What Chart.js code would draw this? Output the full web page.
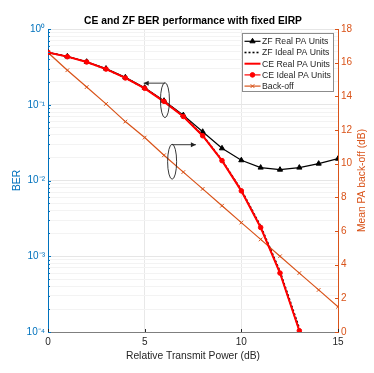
<!DOCTYPE html>
<html>
<head>
<meta charset="utf-8">
<script src="https://cdn.jsdelivr.net/npm/chart.js@4/dist/chart.umd.min.js"></script>
<style>
html,body{margin:0;padding:0;background:#fff;}
#wrap{width:374px;height:373px;position:relative;}
</style>
</head>
<body>
<div id="wrap"><canvas id="c" width="374" height="373"></canvas></div>
<script>
// ---- data ----
const xValues = [0,1,2,3,4,5,6,7,8,9,10,11,12,13,14,15];
const zfReal  = [0.49,0.435,0.37,0.30,0.23,0.168,0.113,0.073,0.044,0.0266,0.0185,0.0148,0.0139,0.0148,0.0167,0.0194];
const zfIdeal = [0.49,0.433,0.367,0.296,0.227,0.165,0.111,0.071,0.0395,0.0186,0.0075,0.0025,0.00063,0.000112];
const ceReal  = [0.49,0.432,0.366,0.295,0.226,0.164,0.110,0.070,0.039,0.0183,0.0073,0.0024,0.0006,0.000104];
const ceIdeal = [0.49,0.431,0.367,0.296,0.226,0.165,0.111,0.070,0.039,0.0183,0.0073,0.0024,0.0006,0.000104];
const backOff = [16.6,15.55,14.55,13.55,12.5,11.55,10.5,9.5,8.5,7.5,6.5,5.5,4.5,3.5,2.5,1.5];
const xTicks = [0,5,10,15];
const berTickLabels = {"1":"10\u2070","0.1":"10\u207B\u00B9","0.01":"10\u207B\u00B2","0.001":"10\u207B\u00B3","0.0001":"10\u207B\u2074"};
const titleText = "CE and ZF BER performance with fixed EIRP";
const xTitle = "Relative Transmit Power (dB)";
const yTitle = "BER";
const y2Title = "Mean PA back-off (dB)";

const BLUE = '#0072BD', ORANGE = '#D95319', AX = '#262626';
const FONT = "'Liberation Sans', Arial, sans-serif";

function pts(arr){ return arr.map((v,i)=>({x:xValues[i], y:v})); }

const datasets = [
  {label:'ZF Real PA Units', data:pts(zfReal), borderColor:'#000', backgroundColor:'#000', borderWidth:1.2,
   pointStyle:'triangle', pointRadius:3, pointBorderWidth:1, order:4, yAxisID:'y'},
  {label:'ZF Ideal PA Units', data:pts(zfIdeal), borderColor:'#000', backgroundColor:'#000', borderWidth:1.6,
   borderDash:[2,2], pointRadius:0, order:3, yAxisID:'y'},
  {label:'CE Real PA Units', data:pts(ceReal), borderColor:'#FF0000', backgroundColor:'#FF0000', borderWidth:2,
   pointRadius:0, order:2, yAxisID:'y'},
  {label:'CE Ideal PA Units', data:pts(ceIdeal), borderColor:'#FF0000', backgroundColor:'#FF0000', borderWidth:1.2,
   pointStyle:'circle', pointRadius:2.3, pointBorderWidth:1, order:1, yAxisID:'y'},
  {label:'Back-off', data:pts(backOff), borderColor:ORANGE, backgroundColor:ORANGE, borderWidth:1.2,
   pointStyle:'crossRot', pointRadius:2.6, pointBorderWidth:1, order:5, yAxisID:'y2'}
];

const decorPlugin = {
  id:'decor',
  afterDraw(chart){
    const ctx = chart.ctx, a = chart.chartArea;
    const sx = chart.scales.x, sy = chart.scales.y, sy2 = chart.scales.y2;
    ctx.save();
    // inner tick marks
    ctx.lineWidth = 1;
    ctx.strokeStyle = BLUE;
    sy.ticks.forEach(t=>{
      const y = Math.round(sy.getPixelForValue(t.value))+0.5;
      const major = berTickLabels[String(t.value)] !== undefined;
      ctx.beginPath(); ctx.moveTo(a.left, y); ctx.lineTo(a.left + (major?3:2), y); ctx.stroke();
    });
    ctx.strokeStyle = ORANGE;
    sy2.ticks.forEach(t=>{
      const y = Math.round(sy2.getPixelForValue(t.value))+0.5;
      ctx.beginPath(); ctx.moveTo(a.right, y); ctx.lineTo(a.right-3, y); ctx.stroke();
    });
    ctx.strokeStyle = AX;
    sx.ticks.forEach(t=>{
      const x = Math.round(sx.getPixelForValue(t.value))+0.5;
      ctx.beginPath(); ctx.moveTo(x, a.bottom); ctx.lineTo(x, a.bottom-3); ctx.stroke();
    });

    // titles
    ctx.fillStyle = '#000';
    ctx.font = "bold 10.3px " + FONT;
    ctx.textAlign = 'center'; ctx.textBaseline = 'middle';
    ctx.fillText(titleText, (a.left+a.right)/2, 21);
    ctx.font = "10.3px " + FONT;
    ctx.fillStyle = AX;
    ctx.fillText(xTitle, (a.left+a.right)/2, 356);
    ctx.save(); ctx.translate(17, (a.top+a.bottom)/2); ctx.rotate(-Math.PI/2);
    ctx.fillStyle = BLUE; ctx.fillText(yTitle, 0, 0); ctx.restore();
    ctx.save(); ctx.translate(362, (a.top+a.bottom)/2); ctx.rotate(-Math.PI/2);
    ctx.fillStyle = ORANGE; ctx.fillText(y2Title, 0, 0); ctx.restore();

    // annotations (ellipses + arrows)
    function arrow(x1,y,x2){
      ctx.beginPath(); ctx.moveTo(x1,y); ctx.lineTo(x2,y); ctx.stroke();
      const d = x2 > x1 ? 1 : -1;
      ctx.beginPath(); ctx.moveTo(x2,y); ctx.lineTo(x2-d*5,y-2.5); ctx.lineTo(x2-d*5,y+2.5); ctx.closePath(); ctx.fill();
    }
    ctx.strokeStyle = '#222'; ctx.fillStyle = '#222'; ctx.lineWidth = 0.9;
    let cx = sx.getPixelForValue(6.05), cy = sy.getPixelForValue(0.115);
    ctx.beginPath(); ctx.ellipse(cx, cy, 4.5, 17.5, 0, 0, Math.PI*2); ctx.stroke();
    arrow(cx, cy-17, sx.getPixelForValue(4.95));
    cx = sx.getPixelForValue(6.42); cy = sy.getPixelForValue(0.0177);
    ctx.beginPath(); ctx.ellipse(cx, cy, 4.5, 17.5, 0, 0, Math.PI*2); ctx.stroke();
    arrow(cx, cy-17, sx.getPixelForValue(7.65));

    // legend
    const lx = 242, ly = 33, lw = 91, lh = 58;
    ctx.fillStyle = '#fff'; ctx.fillRect(lx, ly, lw, lh);
    ctx.strokeStyle = '#8c8c8c'; ctx.lineWidth = 1;
    ctx.strokeRect(lx+0.5, ly+0.5, lw, lh);
    ctx.font = "8.7px " + FONT; ctx.textAlign = 'left'; ctx.textBaseline = 'middle';
    datasets.forEach((ds, i)=>{
      const y = ly + 8.3 + i*11.2;
      ctx.strokeStyle = ds.borderColor; ctx.lineWidth = ds.borderWidth;
      ctx.setLineDash(ds.borderDash || []);
      ctx.beginPath(); ctx.moveTo(lx+2.5, y); ctx.lineTo(lx+18.5, y); ctx.stroke();
      ctx.setLineDash([]);
      if (ds.pointRadius > 0) {
        ctx.lineWidth = 1;
        ctx.fillStyle = ds.backgroundColor; ctx.strokeStyle = ds.borderColor;
        Chart.helpers.drawPoint(ctx, {pointStyle: ds.pointStyle, radius: ds.pointRadius, borderWidth: 1, rotation: 0}, lx+10.5, y);
      }
      ctx.fillStyle = AX;
      ctx.fillText(ds.label, lx+20, y+0.5);
    });
    ctx.restore();
  }
};

const chart = new Chart(document.getElementById('c'), {
  type:'line',
  data:{datasets},
  options:{
    responsive:false, animation:false,
    layout:{padding:{top:29, bottom:0, left:0, right:0}},
    plugins:{legend:{display:false}, tooltip:{enabled:false}, title:{display:false}},
    scales:{
      x:{type:'linear', min:0, max:15,
        afterBuildTicks(s){ s.ticks = xTicks.map(v=>({value:v})); },
        afterFit(s){ s.height = 41; },
        grid:{color:'#e8e8e8', drawTicks:false, lineWidth:1},
        border:{color:'#7f7f7f', width:1},
        ticks:{color:AX, font:{family:FONT, size:10}, padding:4, maxRotation:0}
      },
      y:{type:'logarithmic', position:'left', min:1e-4, max:1,
        afterBuildTicks(s){
          const t=[];
          for (let e=-4; e<=0; e++){ for (let m=1; m<=9; m++){ const v = +(m*Math.pow(10,e)).toPrecision(6); if (v<=1) t.push({value:v}); } }
          s.ticks = t;
        },
        afterFit(s){ s.width = 48; },
        grid:{drawTicks:false, color(c){ const v=c.tick&&c.tick.value; return berTickLabels[String(v)]!==undefined ? '#e6e6e6' : '#f3f3f3'; }},
        border:{color:BLUE, width:1},
        ticks:{color:BLUE, font:{family:FONT, size:10}, padding:3, autoSkip:false,
          callback(v){ const l = berTickLabels[String(v)]; return l===undefined ? '' : l; }}
      },
      y2:{type:'linear', position:'right', min:0, max:18,
        afterBuildTicks(s){ const t=[]; for(let v=0; v<=18; v+=2) t.push({value:v}); s.ticks=t; },
        afterFit(s){ s.width = 36; },
        grid:{display:false, drawTicks:false},
        border:{color:ORANGE, width:1},
        ticks:{color:ORANGE, font:{family:FONT, size:10}, padding:3}
      }
    }
  },
  plugins:[decorPlugin]
});
</script>
</body>
</html>
